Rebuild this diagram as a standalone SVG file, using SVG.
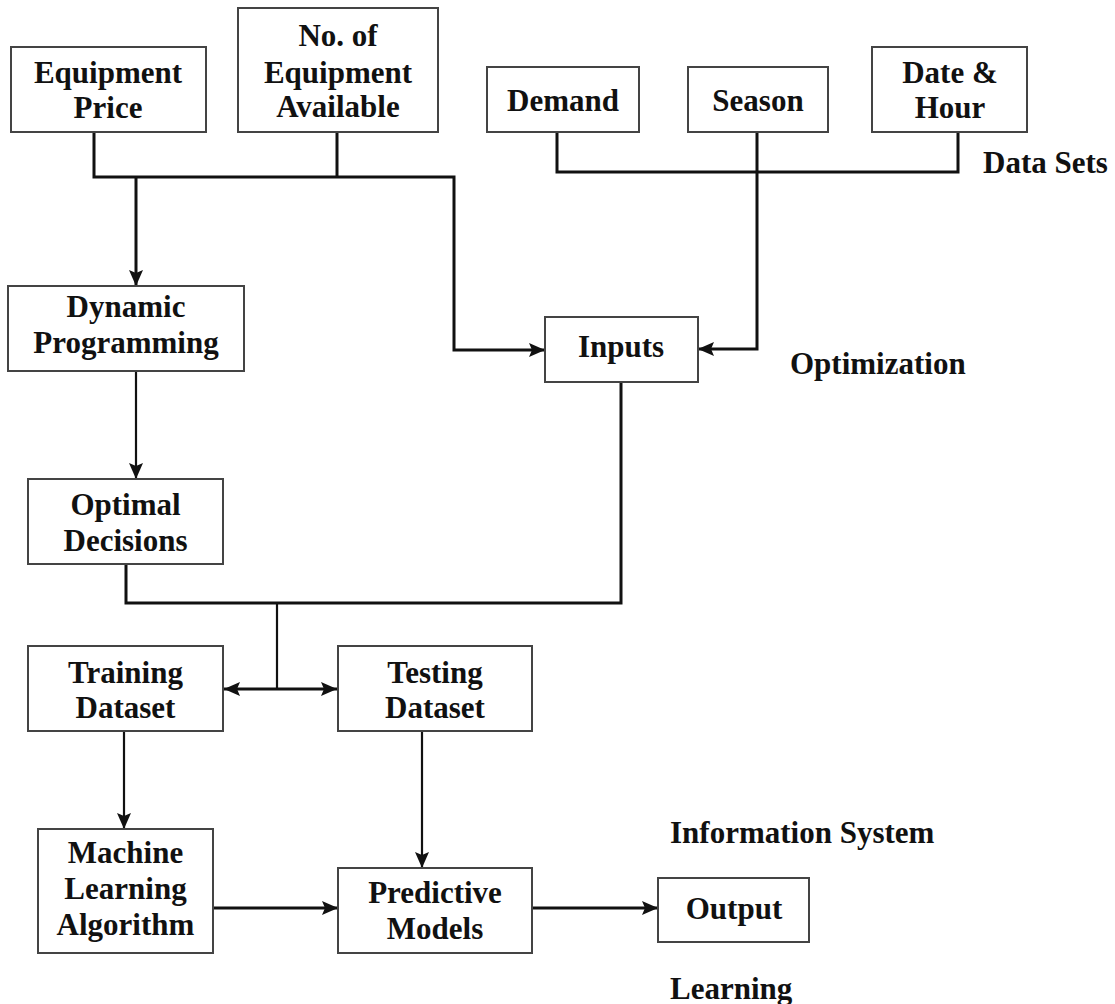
<svg xmlns="http://www.w3.org/2000/svg" width="1115" height="1004" viewBox="0 0 1115 1004">
  <style>
    .box { fill: #ffffff; stroke: #444444; stroke-width: 2; }
    .lbl { font-family: "Liberation Serif", "Times New Roman", serif; font-weight: bold; font-size: 31px; fill: #111111; text-anchor: middle; }
    .cap { font-family: "Liberation Serif", "Times New Roman", serif; font-weight: bold; font-size: 31px; fill: #111111; }
    .wire { fill: none; stroke: #111111; stroke-width: 3; }
    .thin { fill: none; stroke: #111111; stroke-width: 2.2; }
  </style>
  <defs>
    <marker id="arrow" markerUnits="userSpaceOnUse" markerWidth="18" markerHeight="16" refX="16" refY="7" orient="auto-start-reverse">
      <path d="M0,0 L16,7 L0,14 L3,7 z" fill="#111111"/>
    </marker>
  </defs>

  <rect width="1115" height="1004" fill="#ffffff"/>

  <!-- connectors -->
  <g id="connectors">
    <path class="wire" d="M94,132 V177 H454 V350 H545" marker-end="url(#arrow)"/>
    <path class="wire" d="M337,132 V177"/>
    <path class="wire" d="M136,177 V286" marker-end="url(#arrow)"/>
    <path class="wire" d="M557,132 V172 H958 V132"/>
    <path class="wire" d="M757,132 V349 H698" marker-end="url(#arrow)"/>
    <path class="thin" d="M136,371 V479" marker-end="url(#arrow)"/>
    <path class="wire" d="M126,564 V603 H621 V382"/>
    <path class="thin" d="M277,603 V689"/>
    <path class="wire" d="M224,689 H337" marker-start="url(#arrow)" marker-end="url(#arrow)"/>
    <path class="thin" d="M124,731 V829" marker-end="url(#arrow)"/>
    <path class="thin" d="M422,731 V868" marker-end="url(#arrow)"/>
    <path class="wire" d="M213,908 H338" marker-end="url(#arrow)"/>
    <path class="wire" d="M532,908 H658" marker-end="url(#arrow)"/>
  </g>

  <!-- data set inputs -->
  <g id="equipment-price">
    <rect class="box" x="11" y="47" width="195" height="85"/>
    <text class="lbl" x="108" y="83">Equipment</text>
    <text class="lbl" x="108" y="118">Price</text>
  </g>
  <g id="equipment-available">
    <rect class="box" x="238" y="8" width="200" height="124"/>
    <text class="lbl" x="338" y="46">No. of</text>
    <text class="lbl" x="338" y="83">Equipment</text>
    <text class="lbl" x="338" y="117">Available</text>
  </g>
  <g id="demand">
    <rect class="box" x="487" y="67" width="152" height="65"/>
    <text class="lbl" x="563" y="111">Demand</text>
  </g>
  <g id="season">
    <rect class="box" x="688" y="67" width="140" height="65"/>
    <text class="lbl" x="758" y="111">Season</text>
  </g>
  <g id="date-hour">
    <rect class="box" x="872" y="47" width="155" height="85"/>
    <text class="lbl" x="950" y="83">Date &amp;</text>
    <text class="lbl" x="950" y="118">Hour</text>
  </g>

  <!-- optimization -->
  <g id="dynamic-programming">
    <rect class="box" x="8" y="286" width="236" height="85"/>
    <text class="lbl" x="126" y="317">Dynamic</text>
    <text class="lbl" x="126" y="353">Programming</text>
  </g>
  <g id="inputs">
    <rect class="box" x="545" y="317" width="153" height="65"/>
    <text class="lbl" x="621" y="357">Inputs</text>
  </g>
  <g id="optimal-decisions">
    <rect class="box" x="28" y="479" width="195" height="85"/>
    <text class="lbl" x="125.5" y="515">Optimal</text>
    <text class="lbl" x="125.5" y="551">Decisions</text>
  </g>

  <!-- learning -->
  <g id="training-dataset">
    <rect class="box" x="28" y="646" width="195" height="85"/>
    <text class="lbl" x="125.5" y="683">Training</text>
    <text class="lbl" x="125.5" y="718">Dataset</text>
  </g>
  <g id="testing-dataset">
    <rect class="box" x="338" y="646" width="194" height="85"/>
    <text class="lbl" x="435" y="683">Testing</text>
    <text class="lbl" x="435" y="718">Dataset</text>
  </g>
  <g id="ml-algorithm">
    <rect class="box" x="38" y="829" width="175" height="124"/>
    <text class="lbl" x="125.5" y="863">Machine</text>
    <text class="lbl" x="125.5" y="899">Learning</text>
    <text class="lbl" x="125.5" y="935">Algorithm</text>
  </g>
  <g id="predictive-models">
    <rect class="box" x="338" y="868" width="194" height="85"/>
    <text class="lbl" x="435" y="903">Predictive</text>
    <text class="lbl" x="435" y="939">Models</text>
  </g>
  <g id="output">
    <rect class="box" x="658" y="878" width="151" height="64"/>
    <text class="lbl" x="734" y="919">Output</text>
  </g>

  <!-- stage captions -->
  <g id="captions">
    <text class="cap" x="983" y="173">Data Sets</text>
    <text class="cap" x="790" y="374">Optimization</text>
    <text class="cap" x="670" y="843">Information System</text>
    <text class="cap" x="670" y="999">Learning</text>
  </g>
</svg>
